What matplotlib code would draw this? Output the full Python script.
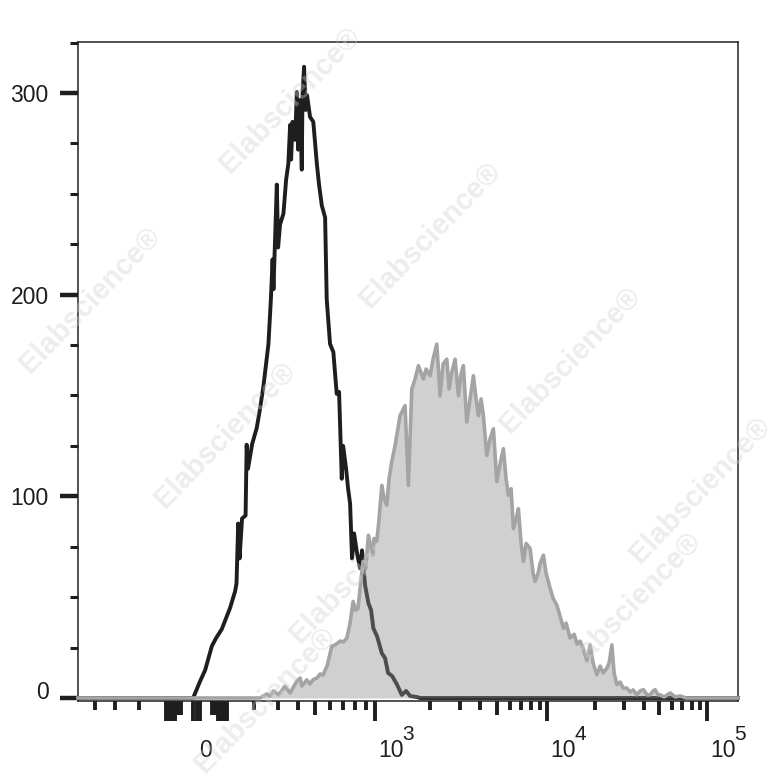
import numpy as np
import matplotlib.pyplot as plt
from matplotlib.ticker import FixedLocator, FixedFormatter, MultipleLocator
from matplotlib.transforms import ScaledTranslation

plt.rcParams['font.family'] = ['Liberation Sans', 'DejaVu Sans']

# Kontrolle (schwarze Linie): Fluoreszenzintensitaet und Ereignisse
ctrl_x = [-500, -11, 11, 28, 50, 64, 83, 111, 129, 134, 140, 145, 154, 167, 171, 176,
          192, 210, 223, 237, 258, 269, 276, 280, 295, 301, 310, 326, 339, 350, 359,
          364, 371, 385, 394, 401, 412, 421, 425, 434, 443, 451, 469, 489, 511, 525,
          543, 565, 576, 599, 623, 648, 666, 687, 698, 722, 739, 756, 773, 791, 818,
          846, 865, 895, 929, 957, 981, 1026, 1090, 1136, 1181, 1242, 1318, 1404,
          1482, 1558, 1694, 1766, 156000]
ctrl_y = [0, 0, 8.1, 13.8, 25.7, 29.7, 34.1, 44.5, 52.9, 56.8, 86.5, 69.2, 89, 90.5,
          125.6, 113.7, 126, 134, 143.4, 154.7, 175.5, 198.7, 217.5, 202.7, 254.6,
          223.4, 234.8, 240.2, 257, 265, 284.2, 267, 285.7, 276.8, 300.5, 271.9,
          296.6, 262, 299, 313, 291.6, 299, 288.2, 285.7, 265, 254.6, 244.2, 238.3,
          197.7, 175.6, 171.5, 150.8, 151.8, 108.7, 125, 113.7, 103.8, 96.4, 69.2,
          81.6, 71.7, 64.3, 73.2, 55.9, 47, 43.5, 34.6, 30.6, 22.2, 19.8, 12.4, 10.9,
          6.9, 1.5, 3.5, 1, 0.5, 0, 0]

# gefaerbte Probe (graue Flaeche)
stain_x = [-500, 223, 251, 265, 280, 303, 334, 359, 394, 412, 421, 450, 469, 488, 511,
           532, 551, 578, 612, 636, 674, 700, 728, 756, 782, 806, 827, 846, 875, 902,
           929, 975, 989, 1022, 1053, 1090, 1122, 1161, 1196, 1237, 1290, 1374, 1463,
           1525, 1592, 1659, 1729, 1840, 1903, 2000, 2084, 2194, 2296, 2393, 2518,
           2600, 2698, 2823, 2954, 3066, 3164, 3315, 3469, 3630, 3766, 3887, 4034,
           4163, 4362, 4564, 4775, 5003, 5234, 5476, 5682, 5863, 6085, 6279, 6516,
           6725, 6978, 7201, 7472, 7892, 8223, 8451, 8805, 9051, 9468, 9824, 10400,
           10860, 11450, 12010, 12600, 13100, 13870, 14700, 15350, 16020, 16730,
           17650, 18510, 19330, 20390, 21380, 22330, 23550, 24340, 25310, 26160,
           27200, 28530, 29790, 31420, 32950, 34400, 36290, 38060, 39910, 42100,
           43960, 45900, 47250, 49340, 50780, 53800, 58660, 63040, 67760, 73880, 156000]
stain_y = [0, 0, 2, 1, 3.5, 1.5, 5.9, 2.5, 8.4, 9.9, 5.9, 9, 6.9, 9.1, 9.9, 11.9, 11.4,
           15.8, 25.7, 26.3, 28.2, 27.8, 29.7, 37.1, 47.9, 43.5, 44.5, 54.4, 67.7, 64.3,
           80.7, 70.8, 79.1, 77.6, 89, 105.4, 98.9, 95.6, 108.7, 117.2, 125.2, 140, 145,
           105.4, 153.2, 158.2, 164.8, 158.2, 163.1, 159.8, 168, 175.5, 149.9, 165.6,
           168, 153.2, 161.5, 168, 149.9, 160.7, 164.8, 136.9, 148.3, 159.8, 148.3, 140,
           148.3, 140, 120.3, 128.5, 133.5, 107.3, 116.2, 123.6, 108.7, 100.5, 103.8, 84,
           89, 93.9, 76.6, 67.7, 76.6, 74.1, 61.8, 57.8, 61.8, 66.7, 70.8, 61.8, 54.4,
           49.4, 46.1, 40.5, 34.6, 37.1, 29.7, 31.6, 26.7, 28.2, 24.7, 18.3, 26.3, 17.3,
           11.5, 15.8, 12.4, 14.8, 17.3, 26.3, 12.4, 6.6, 7.9, 4.9, 4.9, 3, 4, 1.6, 3.5,
           4.1, 1.5, 1.6, 3.5, 4.1, 1.5, 1.6, 0.5, 2.5, 0.5, 1, 0, 0]

# Achsenbeschriftung
xtick_labeled = [0, 1e3, 1e4, 1e5]
xtick_base = ['0', '10', '10', '10']
xtick_exp = ['', '3', '4', '5']
xtick_long = [-100, -90, -80, -70, -10, 10, 70, 80, 90, 100]
xtick_mid = [-60, -50, 50, 60, 500, 5000, 50000]
xtick_short = [-400, -300, -200, 200, 300, 400, 600, 700, 800, 900, 2000, 3000, 4000,
               6000, 7000, 8000, 9000, 20000, 30000, 40000, 60000, 70000, 80000, 90000]
ytick_major = [0, 100, 200, 300]

# biexponentielle Achse (asinh, an die Dekaden angepasst)
C = 300.0
KNOT_V = np.array([0, 500, 1000, 2000, 1e4, 1e5, 1e6])
KNOT_P = np.array([0, 118.5, 178.5, 233.5, 350.8, 510.5, 670.2])
KNOT_U = np.arcsinh(KNOT_V / C)


def biex_fwd(v):
    u = np.arcsinh(np.asarray(v, dtype=float) / C)
    return np.sign(u) * np.interp(np.abs(u), KNOT_U, KNOT_P)


def biex_inv(p):
    p = np.asarray(p, dtype=float)
    u = np.interp(np.abs(p), KNOT_P, KNOT_U)
    return np.sign(p) * C * np.sinh(u)


fig = plt.figure(figsize=(7.79, 7.80), dpi=100)
ax = fig.add_axes([78 / 779, 79 / 780, 660 / 779, 659 / 780])
ax.set_xscale('function', functions=(biex_fwd, biex_inv))

ax.plot(ctrl_x, ctrl_y, color='#1e1e1e', lw=2.8, zorder=2, clip_on=False)
ax.fill_between(stain_x, stain_y, 0, color='#8f8f8f', alpha=0.42, lw=0, zorder=3)
ax.plot(stain_x, stain_y, color='#a4a4a4', lw=2.6, zorder=3.5, clip_on=False)

ax.set_xlim(-500, 156000)
ax.set_ylim(-1.5, 325.3)

for s in ax.spines.values():
    s.set_linewidth(1.1)
    s.set_color('#222222')

# y-Achse
ax.yaxis.set_major_locator(FixedLocator(ytick_major))
ax.yaxis.set_minor_locator(MultipleLocator(25))
ax.tick_params(axis='y', which='major', direction='out', length=13, width=3.2,
               pad=8, labelsize=16.5, colors='#1e1e1e')
ax.tick_params(axis='y', which='minor', direction='out', length=6, width=2.2,
               colors='#1e1e1e')
ytk = ax.yaxis.get_major_ticks()
ytk[0].label1.set_transform(ytk[0].label1.get_transform()
                            + ScaledTranslation(0, 0.08, fig.dpi_scale_trans))

# x-Achse
all_x = sorted(xtick_labeled + xtick_long + xtick_mid + xtick_short)
all_lbl = [xtick_base[xtick_labeled.index(v)] if v in xtick_labeled else '' for v in all_x]
ax.xaxis.set_major_locator(FixedLocator(all_x))
ax.xaxis.set_major_formatter(FixedFormatter(all_lbl))
ax.xaxis.set_minor_locator(FixedLocator([]))
ax.tick_params(axis='x', which='major', direction='out', length=6.5, width=2.8,
               pad=33.5, labelsize=16.5, colors='#1e1e1e')
for tk, loc in zip(ax.xaxis.get_major_ticks(), all_x):
    if loc in xtick_labeled or loc in xtick_long:
        tk.tick1line.set_markersize(14.4)
    elif loc in xtick_mid:
        tk.tick1line.set_markersize(10)
    else:
        tk.tick1line.set_markersize(6.5)
    tk.label1.set_horizontalalignment('left')
    tk.label1.set_verticalalignment('baseline')
    tk.label1.set_transform(tk.label1.get_transform()
                            + ScaledTranslation(0.03, 0, fig.dpi_scale_trans))

# Exponenten der Dekaden
for v, e in zip(xtick_labeled, xtick_exp):
    if e:
        ax.annotate(e, xy=(v, 0), xycoords=('data', 'axes fraction'),
                    xytext=(19.5, -28), textcoords='offset points',
                    ha='left', va='baseline', fontsize=15, color='#1e1e1e',
                    annotation_clip=False)

# Wasserzeichen
wm_pos = [(290, 100), (430, 235), (570, 360), (700, 490), (90, 300),
          (225, 435), (360, 570), (630, 605), (265, 700)]
for px, py in wm_pos:
    fig.text(px / 779, 1 - py / 780, 'Elabscience®', rotation=46, ha='center',
             va='center', fontsize=21, fontweight='bold', color='#d0d0d0',
             alpha=0.38, zorder=10)

fig.savefig('out.png', dpi=100)
